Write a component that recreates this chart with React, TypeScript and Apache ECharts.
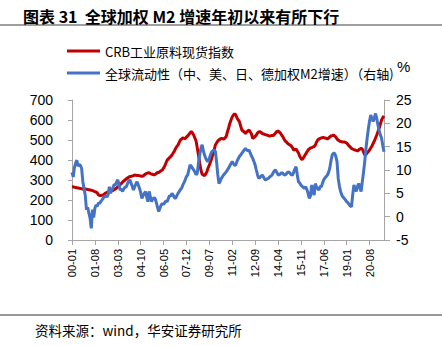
import React, { useEffect, useRef } from "react";
import * as echarts from "echarts";

const startYear = 2000;
const monthCount = 260;
const months: string[] = [];
for (let i = 0; i < monthCount; i++) {
  const y = startYear + Math.floor(i / 12);
  const m = (i % 12) + 1;
  months.push(String(y % 100).padStart(2, "0") + "-" + String(m).padStart(2, "0"));
}

const crbName = "CRB工业原料现货指数";
const m2Name = "全球流动性（中、美、日、德加权M2增速）（右轴)";
const rightUnit = "%";

const crbIndex: number[] = [
  265, 266, 264, 262, 261, 260, 259, 258, 256, 255, 256, 255,
  254, 252, 251, 250, 249, 247, 245, 242, 240, 235, 225, 223,
  222, 224, 225, 230, 235, 238, 240, 242, 244, 245, 248, 252,
  255, 260, 265, 270, 277, 283, 290, 295, 300, 305, 310, 314,
  317, 318, 320, 322, 325, 324, 323, 322, 321, 320, 319, 320,
  325, 330, 333, 335, 336, 332, 330, 328, 325, 328, 332, 338,
  338, 342, 346, 350, 360, 370, 385, 400, 405, 412, 418, 425,
  435, 445, 458, 468, 475, 488, 500, 505, 510, 508, 508, 515,
  520, 528, 535, 542, 535, 525, 510, 495, 460, 425, 385, 350,
  330, 325, 322, 330, 342, 360, 375, 390, 410, 430, 450, 475,
  485, 495, 500, 505, 508, 506, 505, 510, 517, 540, 560, 583,
  600, 615, 625, 630, 625, 610, 600, 592, 570, 550, 545, 540,
  533, 540, 545, 550, 540, 530, 508, 512, 518, 525, 535, 540,
  542, 538, 532, 530, 528, 525, 525, 522, 520, 521, 522, 522,
  528, 535, 542, 545, 540, 535, 525, 517, 505, 495, 490, 483,
  478, 475, 470, 462, 450, 452, 455, 445, 435, 420, 408, 402,
  410, 420, 430, 440, 450, 455, 460, 462, 465, 467, 475, 490,
  500, 505, 508, 510, 512, 512, 510, 508, 505, 510, 515, 520,
  522, 525, 520, 515, 505, 500, 495, 492, 491, 490, 490, 488,
  485, 478, 470, 465, 458, 455, 452, 450, 448, 445, 450, 455,
  458, 455, 440, 425, 428, 435, 442, 450, 460, 470, 483, 495,
  510, 525, 542, 560, 580, 600, 612, 620,
];

const m2Growth: number[] = [
  9.5, 8.5, 10.5, 11.5, 12.1, 10.8, 11.2, 11.0, 10.3, 7.5, 6.0, 4.6,
  1.5, 2.0, 0.8, -0.3, -2.5, 1.5, -0.2, 1.8, 2.5, 2.2, 3.0, 2.8,
  3.3, 3.6, 4.0, 4.3, 4.5, 4.2, 4.7, 6.4, 5.0, 5.8, 6.2, 6.9,
  6.8, 7.4, 7.9, 6.9, 5.7, 5.9, 5.4, 6.0, 6.3, 6.4, 7.0, 7.6,
  7.9, 7.2, 6.5, 5.7, 6.4, 7.0, 7.5, 6.8, 6.1, 5.2, 3.9, 4.5,
  5.0, 5.4, 4.2, 3.2, 5.4, 4.3, 3.2, 3.8, 4.0, 3.9, 3.0, 2.0,
  1.1, 1.8, 2.5, 2.8, 2.6, 3.0, 3.4, 3.2, 3.9, 4.5, 4.4, 5.0,
  4.6, 4.1, 3.9, 4.5, 5.0, 5.4, 5.8, 6.1, 6.8, 7.3, 7.9, 8.6,
  8.9, 10.0, 11.1, 10.8, 10.4, 10.0, 9.6, 9.0, 9.3, 11.5, 13.2, 14.6,
  15.4, 14.2, 13.2, 12.5, 12.0, 11.8, 12.5, 13.3, 13.9, 14.1, 14.3, 14.0,
  11.8, 9.0, 7.1, 7.6, 8.2, 8.6, 9.0, 9.3, 9.6, 10.0, 10.4, 10.9,
  11.4, 11.8, 11.4, 11.0, 11.1, 11.9, 12.4, 12.9, 13.2, 13.6, 13.9, 14.3,
  14.6, 14.3, 14.1, 14.3, 13.6, 13.0, 12.5, 11.8, 11.1, 10.0, 9.0, 8.2,
  8.4, 8.7, 8.9, 8.5, 8.0, 7.9, 8.1, 8.2, 8.5, 8.7, 8.9, 9.4,
  9.8, 10.0, 9.5, 9.0, 8.9, 9.2, 9.4, 9.3, 9.0, 8.9, 9.2, 9.5,
  9.6, 9.3, 9.0, 8.9, 9.5, 10.2, 10.7, 9.0, 7.5, 7.2, 6.8, 6.5,
  6.3, 6.1, 6.4, 5.8, 5.0, 3.9, 4.5, 6.8, 5.5, 4.6, 7.1, 6.3,
  6.0, 5.7, 6.5, 6.4, 7.2, 7.9, 8.3, 8.6, 8.9, 9.5, 10.4, 12.0,
  13.2, 13.6, 13.6, 12.9, 11.8, 8.2, 6.5, 5.4, 4.6, 4.2, 3.9, 3.6,
  3.2, 3.0, 2.6, 2.3, 2.1, 4.6, 6.8, 6.0, 5.4, 6.5, 7.1, 6.2,
  5.4, 7.5, 9.5, 11.8, 14.5, 16.8, 18.8, 20.5, 21.8, 21.0, 20.4, 21.2,
  22.1, 21.0, 19.6, 18.5, 17.5, 16.8, 15.2, 13.9,
];

const leftTicks = { min: 0, max: 700, interval: 100 };
const rightTicks = { min: -5, max: 25, interval: 5 };

const FONT = "'Liberation Sans', Arial, 'Noto Sans CJK SC', sans-serif";
const CJK = "'Noto Sans CJK SC', 'Liberation Sans', sans-serif";

export default function App() {
  const ref = useRef<HTMLDivElement>(null);
  useEffect(() => {
    if (!ref.current) return;
    const chart = echarts.init(ref.current, null, { renderer: "svg" });
    const axisLineStyle = { color: "#a6a6a6", width: 1 };
    chart.setOption({
      animation: false,
      backgroundColor: "#fff",
      title: [
        {
          text: "图表 31  全球加权 M2 增速年初以来有所下行",
          left: 18,
          top: 3,
          textStyle: { fontSize: 16, fontWeight: "bold", color: "#000", fontFamily: CJK },
        },
        {
          text: "资料来源：wind，华安证券研究所",
          left: 30,
          top: 318,
          textStyle: { fontSize: 13.5, fontWeight: "normal", color: "#000", fontFamily: CJK },
        },
      ],
      graphic: [
        { type: "line", shape: { x1: 0, y1: 25, x2: 442, y2: 25 }, style: { stroke: "#7f7f7f", lineWidth: 1.5 } },
        { type: "line", shape: { x1: 0, y1: 315, x2: 442, y2: 315 }, style: { stroke: "#333", lineWidth: 1 } },
        {
          type: "text",
          left: 397,
          top: 59,
          style: { text: rightUnit, fontSize: 15, fill: "#000", fontFamily: FONT },
        },
      ],
      legend: {
        orient: "vertical",
        left: 62,
        top: 39,
        icon: "rect",
        itemWidth: 33,
        itemHeight: 3,
        itemGap: 8,
        padding: 5,
        textStyle: { fontSize: 13, color: "#000", fontFamily: CJK, lineHeight: 14 },
        data: [crbName, m2Name],
      },
      grid: { left: 72, right: 58, top: 100, bottom: 106, containLabel: false },
      xAxis: {
        type: "category",
        data: months,
        boundaryGap: false,
        axisLine: { lineStyle: axisLineStyle },
        axisTick: { interval: 18, length: 5, lineStyle: axisLineStyle },
        axisLabel: {
          interval: 18,
          rotate: 90,
          margin: 9,
          fontSize: 11,
          color: "#000",
          fontFamily: FONT,
        },
        splitLine: { show: false },
      },
      yAxis: [
        {
          type: "value",
          ...leftTicks,
          position: "left",
          axisLine: { show: true, lineStyle: axisLineStyle },
          axisTick: { show: true, length: 4, lineStyle: axisLineStyle },
          axisLabel: { fontSize: 14, color: "#000", margin: 19, fontFamily: FONT },
          splitLine: { show: false },
        },
        {
          type: "value",
          ...rightTicks,
          position: "right",
          axisLine: { show: true, lineStyle: axisLineStyle },
          axisTick: { show: true, length: 6, lineStyle: axisLineStyle },
          axisLabel: { fontSize: 14, color: "#000", margin: 12, fontFamily: FONT },
          splitLine: { show: false },
        },
      ],
      series: [
        {
          name: crbName,
          type: "line",
          yAxisIndex: 0,
          data: crbIndex,
          symbol: "none",
          lineStyle: { color: "#c00000", width: 3 },
          itemStyle: { color: "#c00000" },
        },
        {
          name: m2Name,
          type: "line",
          yAxisIndex: 1,
          data: m2Growth,
          symbol: "none",
          lineStyle: { color: "#4472c4", width: 3 },
          itemStyle: { color: "#4472c4" },
        },
      ],
    });
    return () => chart.dispose();
  }, []);
  return (
    <div
      ref={ref}
      style={{ position: "fixed", left: 0, top: 0, width: 442, height: 346, background: "#fff" }}
    />
  );
}
